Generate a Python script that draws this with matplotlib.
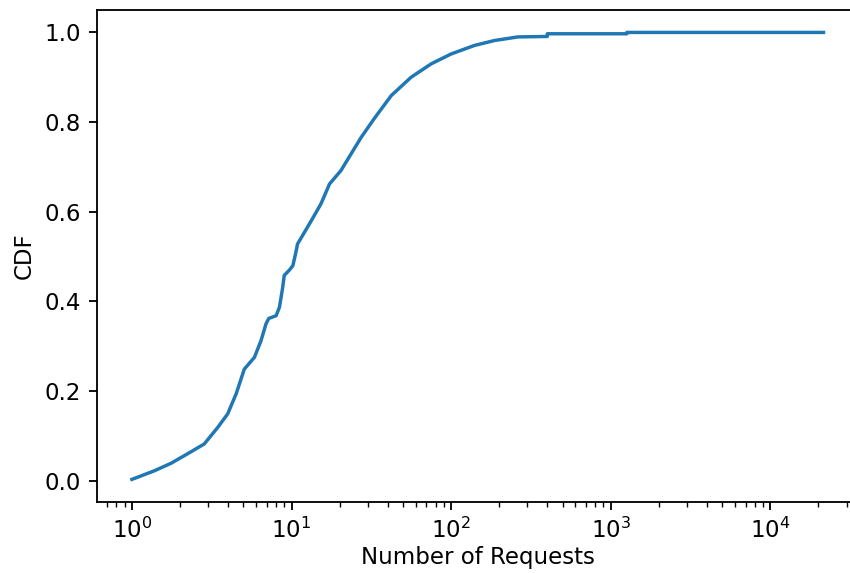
import matplotlib
matplotlib.use('Agg')
import matplotlib.pyplot as plt

# CDF of number of requests
requests = [1.0, 1.38, 1.76, 2.23, 2.84, 3.45, 3.98, 4.5, 5.06, 5.85, 6.44, 6.92,
            7.2, 8.0, 8.4, 8.8, 9.0, 9.7, 10.2, 10.7, 10.9, 13.3, 15.3, 17.3,
            20.4, 23.6, 27.3, 33.0, 42.1, 56.1, 75, 100, 140, 187, 262,
            400, 400, 1260, 1260, 21500]
cdf = [0.003, 0.022, 0.039, 0.060, 0.082, 0.119, 0.149, 0.194, 0.249, 0.275, 0.3125, 0.35,
       0.362, 0.368, 0.387, 0.431, 0.458, 0.470, 0.480, 0.513, 0.528, 0.580, 0.618, 0.662,
       0.692, 0.729, 0.766, 0.808, 0.859, 0.900, 0.930, 0.952, 0.971, 0.982, 0.990,
       0.991, 0.997, 0.997, 1.0, 1.0]

fig = plt.figure(figsize=(850 / 165, 573 / 165), dpi=165)
ax = fig.add_axes([0.1145, 0.1244, 0.895, 0.858])
ax.plot(requests, cdf, color='#1f77b4', linewidth=1.5)
ax.set_xscale('log')
ax.set_xlabel('Number of Requests', labelpad=1.5)
ax.set_ylabel('CDF')
# the reference is cropped on the right, so its right spine is not seen
ax.spines['right'].set_visible(False)

fig.savefig('out.png', dpi=165)
